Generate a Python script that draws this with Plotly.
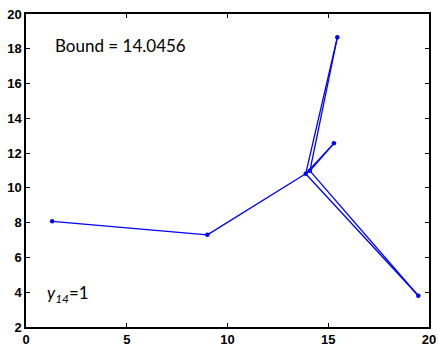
import plotly.graph_objects as go

# node coordinates
node_x = [1.3, 9.0, 13.88, 14.09, 15.45, 15.28, 19.47]
node_y = [8.08, 7.3, 10.81, 10.98, 18.66, 12.56, 3.8]
# edges between nodes (index pairs)
edges = [(0, 1), (1, 2), (2, 4), (3, 4), (3, 5), (2, 5), (2, 6), (3, 6), (2, 3)]
x_ticks = [0, 5, 10, 15, 20]
y_ticks = [2, 4, 6, 8, 10, 12, 14, 16, 18, 20]
bound_text = "Bound = 14.0456"

ex, ey = [], []
for a, b in edges:
    ex += [node_x[a], node_x[b], None]
    ey += [node_y[a], node_y[b], None]

fig = go.Figure()
fig.add_trace(go.Scatter(x=ex, y=ey, mode="lines",
                         line=dict(color="#0000ff", width=1.3),
                         hoverinfo="skip", showlegend=False))
fig.add_trace(go.Scatter(x=node_x, y=node_y, mode="markers",
                         marker=dict(color="#0000ff", size=4.5),
                         showlegend=False))

axis_common = dict(showgrid=False, zeroline=False, showline=True,
                   linecolor="black", linewidth=1.5, mirror="ticks",
                   ticks="inside", ticklen=4, tickcolor="black", automargin=False,
                   tickfont=dict(family="Liberation Sans", size=13, color="black",
                                 weight="bold"))
fig.update_xaxes(range=[0, 20], tickvals=x_ticks, ticktext=[str(v) for v in x_ticks],
                 ticklabelstandoff=0, **axis_common)
fig.update_yaxes(range=[2, 20], tickvals=y_ticks, ticktext=[str(v) for v in y_ticks],
                 ticklabelstandoff=0, **axis_common)

fig.add_annotation(x=1.35, y=18.2, xref="x", yref="y", text=bound_text,
                   showarrow=False, xanchor="left", yanchor="middle",
                   font=dict(family="Lato", size=17, color="black"))
fig.add_annotation(x=0.95, y=3.9, xref="x", yref="y",
                   text="<i>y<sub>14</sub></i>=1",
                   showarrow=False, xanchor="left", yanchor="middle",
                   font=dict(family="Lato", size=17, color="black"))

fig.update_layout(width=438, height=347, plot_bgcolor="white", paper_bgcolor="white",
                  margin=dict(l=26, r=9, t=14, b=20))
fig.write_html("out.html", config={"displayModeBar": False},
               post_script="document.body.style.margin='0';document.body.style.overflow='hidden';")
